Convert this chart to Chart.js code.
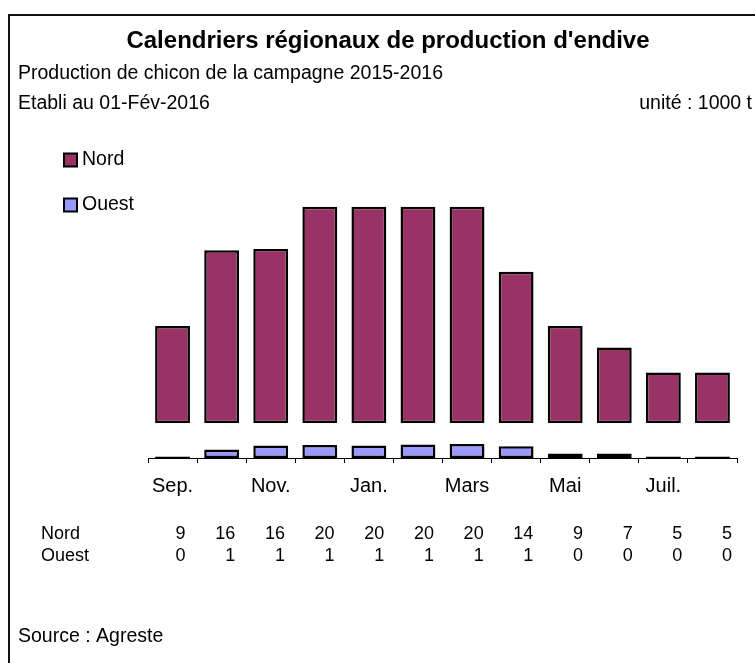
<!DOCTYPE html>
<html>
<head>
<meta charset="utf-8">
<script src="https://cdn.jsdelivr.net/npm/chart.js@4"></script>
<style>
  html, body { margin: 0; padding: 0; background: #fff; }
  #wrap { width: 755px; height: 663px; }
</style>
</head>
<body>
<div id="wrap"><canvas id="graphEndive"></canvas></div>
<script>
const mois = ['Sep.', 'Oct.', 'Nov.', 'Déc.', 'Jan.', 'Fév.', 'Mars', 'Avr.', 'Mai', 'Juin', 'Juil.', 'Août'];
const nord = [9.0, 16.0, 16.1, 20.0, 20.0, 20.0, 20.0, 14.0, 9.0, 7.0, 4.7, 4.7];
const ouest = [0.15, 0.78, 1.15, 1.2, 1.15, 1.25, 1.3, 1.08, 0.42, 0.42, 0.15, 0.15];
const maxNord = 21;
const maxOuest = 3.2;

const police = '"Liberation Sans", Arial, sans-serif';

// titres, légende, tableau de valeurs et cadre
const habillage = {
  id: 'habillage',
  afterDraw(chart) {
    const c = chart.ctx;
    const x = chart.scales.x;
    c.save();
    c.strokeStyle = '#111';
    c.lineWidth = 2;
    c.strokeRect(9, 15, 760, 660);

    c.fillStyle = '#000';
    c.textBaseline = 'middle';
    c.textAlign = 'center';
    c.font = 'bold 24px ' + police;
    c.fillText("Calendriers régionaux de production d'endive", 388, 41);

    c.textAlign = 'left';
    c.font = '19.5px ' + police;
    c.fillText('Production de chicon de la campagne 2015-2016', 18, 74);
    c.fillText('Etabli au 01-Fév-2016', 18, 104);
    c.fillText('Source : Agreste', 18, 637);
    c.textAlign = 'right';
    c.fillText('unité : 1000 t', 752, 104);

    // légende
    const legY = [160, 205];
    chart.data.datasets.forEach((ds, i) => {
      c.fillStyle = ds.backgroundColor;
      c.fillRect(64, legY[i] - 6.5, 13, 13);
      c.strokeStyle = '#000';
      c.lineWidth = 2;
      c.strokeRect(64, legY[i] - 6.5, 13, 13);
      c.fillStyle = '#000';
      c.textAlign = 'left';
      c.font = '19.5px ' + police;
      c.fillText(ds.label, 82, legY[i]);
    });

    // tableau
    const rangY = [534, 556];
    c.font = '18px ' + police;
    chart.data.datasets.forEach((ds, i) => {
      c.textAlign = 'left';
      c.fillText(ds.label, 41, rangY[i]);
      c.textAlign = 'right';
      ds.data.forEach((v, j) => {
        c.fillText(String(Math.round(v)), x.getPixelForValue(j) + 13 + j * 0.6, rangY[i]);
      });
    });
    c.restore();
  }
};

new Chart(document.getElementById('graphEndive'), {
  type: 'bar',
  data: {
    labels: mois,
    datasets: [
      {
        label: 'Nord',
        data: nord,
        yAxisID: 'yNord',
        backgroundColor: '#993366'
      },
      {
        label: 'Ouest',
        data: ouest,
        yAxisID: 'yOuest',
        backgroundColor: '#9999FF'
      }
    ]
  },
  options: {
    responsive: true,
    maintainAspectRatio: false,
    animation: false,
    layout: { padding: { left: 148, right: 18, top: 196, bottom: 165 } },
    datasets: {
      bar: {
        grouped: false,
        borderColor: '#000',
        borderWidth: 2.5,
        borderSkipped: false,
        barPercentage: 0.71,
        categoryPercentage: 1
      }
    },
    scales: {
      x: {
        offset: true,
        grid: {
          offset: true,
          drawOnChartArea: false,
          drawTicks: true,
          tickLength: 5,
          color: '#000'
        },
        border: { display: true, color: '#000', width: 1 },
        ticks: {
          autoSkip: false,
          maxRotation: 0,
          padding: 11,
          color: '#000',
          font: { family: police, size: 20 },
          callback: (v, i) => (i % 2 === 0 ? mois[i] : '')
        },
        afterFit: s => { s.height = 40; }
      },
      yOuest: {
        position: 'left',
        stack: 'regions',
        stackWeight: maxOuest,
        min: 0,
        max: maxOuest,
        grid: { display: false },
        border: { display: false },
        ticks: { display: false },
        afterFit: s => { s.width = 0; }
      },
      yNord: {
        position: 'left',
        stack: 'regions',
        stackWeight: maxNord,
        min: 0,
        max: maxNord,
        grid: { display: false },
        border: { display: false },
        ticks: { display: false },
        afterFit: s => { s.width = 0; }
      }
    },
    plugins: {
      legend: { display: false },
      title: { display: false },
      tooltip: { enabled: false }
    }
  },
  plugins: [habillage]
});
</script>
</body>
</html>
